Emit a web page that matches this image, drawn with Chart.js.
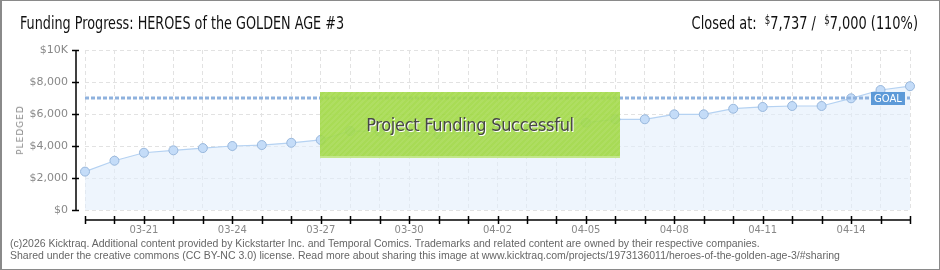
<!DOCTYPE html>
<html>
<head>
<meta charset="utf-8">
<script src="https://cdn.jsdelivr.net/npm/chart.js@4.4.1/dist/chart.umd.min.js"></script>
<style>
  body { margin: 0; background: #fff; }
  #wrap { position: relative; width: 940px; height: 270px; overflow: hidden; }
  #frame { position: absolute; left: 0; top: 0; width: 940px; height: 270px; box-sizing: border-box;
           border: 1px solid #8a8a8a; border-left-width: 2px; pointer-events: none; }
  .cond { font-family: "DejaVu Sans Condensed", "Roboto Condensed", Roboto, sans-serif; font-stretch: condensed; }
  #title { position: absolute; left: 20px; top: 12px; font-size: 18px; color: #111; white-space: nowrap;
           transform: scaleX(0.79); transform-origin: left center; }
  #closed { position: absolute; right: 22px; top: 12px; font-size: 18px; color: #111; white-space: nowrap;
            transform: scaleX(0.8); transform-origin: right center; }
  #closed .sup { font-size: 12px; vertical-align: 5px; }
  #pledged { position: absolute; left: 20px; top: 130px; font-size: 9px; color: #888; letter-spacing: 1px;
             transform: translate(-50%, -50%) rotate(-90deg); white-space: nowrap; font-family: "DejaVu Sans", sans-serif; }
  #success { position: absolute; left: 320px; top: 92px; width: 300px; height: 64px;
             background: rgba(160, 216, 68, 0.9);
             background-image: repeating-linear-gradient(135deg, rgba(255,255,255,0.07) 0 2px, rgba(0,0,0,0) 2px 4px);
             border-bottom: 2px solid rgba(196, 232, 140, 0.95);
             display: flex; align-items: center; justify-content: center;
             font-size: 18px; letter-spacing: -0.3px; color: #474747; text-shadow: 1px 1px 0 #fff; }
  #footer { position: absolute; left: 10px; top: 237px; font-family: "Liberation Sans", Arial, sans-serif;
            font-size: 10.5px; line-height: 12px; color: #666; white-space: nowrap; }
</style>
</head>
<body>
<div id="wrap">
  <canvas id="myChart" width="940" height="270"></canvas>
  <div id="title" class="cond">Funding Progress: HEROES of the GOLDEN AGE #3</div>
  <div id="closed" class="cond"></div>
  <div id="pledged">PLEDGED</div>
  <div id="success" class="cond">Project Funding Successful</div>
  <div id="footer">(c)2026 Kicktraq. Additional content provided by Kickstarter Inc. and Temporal Comics. Trademarks and related content are owned by their respective companies.<br>Shared under the creative commons (CC BY-NC 3.0) license. Read more about sharing this image at www.kicktraq.com/projects/1973136011/heroes-of-the-golden-age-3/#sharing</div>
  <div id="frame"></div>
</div>
<script>
// dates of the campaign, one point per day
let days = ['03-19','03-20','03-21','03-22','03-23','03-24','03-25','03-26','03-27','03-28',
            '03-29','03-30','03-31','04-01','04-02','04-03','04-04','04-05','04-06','04-07',
            '04-08','04-09','04-10','04-11','04-12','04-13','04-14','04-15','04-16'];
// pledged total in dollars
let pledged = [2400, 3080, 3580, 3730, 3870, 4000, 4060, 4200, 4380, 4940,
               4890, 4860, 4730, 4860, 5050, 5200, 5350, 5460, 5670, 5670,
               5980, 5980, 6330, 6440, 6500, 6500, 6980, 7500, 7737];
let goal = 7000;
let closedAt = 7737;
let shownDays = ['03-21','03-24','03-27','03-30','04-02','04-05','04-08','04-11','04-14'];
let yMax = 10000;

let money = (v) => v.toLocaleString('en-US');
document.getElementById('closed').innerHTML =
  'Closed at:&nbsp; <span class="sup">$</span>' + money(closedAt) +
  ' / &nbsp;<span class="sup">$</span>' + money(goal) +
  ' (' + Math.floor(closedAt / goal * 100) + '%)';

const yFont = { family: "'DejaVu Sans', sans-serif", size: 11 };
const xFont = { family: "'DejaVu Sans', sans-serif", size: 10 };

// draws the detached axis lines, tick marks and the GOAL tag
let kicktraqAxes = {
  id: 'kicktraqAxes',
  afterDraw(chart) {
    let { ctx, chartArea, scales } = chart;
    let x = scales.x, y = scales.y;
    let ax = chartArea.left - 9;
    ctx.save();
    ctx.strokeStyle = '#000';
    ctx.lineWidth = 1.5;
    ctx.beginPath();
    ctx.moveTo(ax, y.getPixelForValue(yMax));
    ctx.lineTo(ax, y.getPixelForValue(0) + 1);
    ctx.stroke();
    y.ticks.forEach((t) => {
      let py = Math.round(y.getPixelForValue(t.value)) + 0.5;
      ctx.beginPath();
      if (t.value % 2000 === 0) {
        ctx.strokeStyle = '#000';
        ctx.moveTo(ax - 4, py); ctx.lineTo(ax + 3, py);
      } else {
        ctx.strokeStyle = '#e00';
        ctx.moveTo(ax - 3, py); ctx.lineTo(ax, py);
      }
      ctx.stroke();
    });
    let ay = chartArea.bottom + 10;
    ctx.strokeStyle = '#000';
    ctx.lineWidth = 1.5;
    ctx.beginPath();
    ctx.moveTo(x.getPixelForValue(0), ay);
    ctx.lineTo(x.getPixelForValue(days.length - 1), ay);
    ctx.stroke();
    days.forEach((d, i) => {
      let px = Math.round(x.getPixelForValue(i)) + 0.5;
      ctx.beginPath();
      ctx.moveTo(px, ay - 4); ctx.lineTo(px, ay + 4);
      ctx.stroke();
    });
    // goal tag
    let gy = y.getPixelForValue(goal);
    let gx = x.getPixelForValue(days.length - 1) - 39;
    ctx.fillStyle = '#5d9ad8';
    ctx.fillRect(gx, gy - 6, 34, 13);
    ctx.fillStyle = '#fff';
    ctx.font = "10px 'DejaVu Sans', sans-serif";
    ctx.textAlign = 'center';
    ctx.textBaseline = 'middle';
    ctx.fillText('GOAL', gx + 17, gy + 1);
    ctx.restore();
  }
};

let ctx = document.getElementById('myChart').getContext('2d');
let chart = new Chart(ctx, {
  type: 'line',
  data: {
    labels: days,
    datasets: [{
      label: 'Pledged',
      data: pledged,
      fill: 'origin',
      backgroundColor: 'rgba(226, 238, 251, 0.6)',
      borderColor: '#b5d2f2',
      borderWidth: 1.2,
      tension: 0,
      pointRadius: 4.5,
      pointBackgroundColor: '#c4dcf8',
      pointBorderColor: '#98b7dc',
      pointBorderWidth: 1,
      order: 2
    }, {
      label: 'Goal',
      data: days.map(() => goal),
      fill: false,
      borderColor: '#8fb2de',
      borderWidth: 3,
      borderDash: [4, 2],
      pointRadius: 0,
      order: 1
    }]
  },
  options: {
    responsive: false,
    animation: false,
    devicePixelRatio: 1,
    layout: { padding: { top: 50, right: 30, left: 0, bottom: 0 } },
    plugins: { legend: { display: false }, tooltip: { enabled: false } },
    scales: {
      x: {
        afterFit: (s) => { s.height = 60; },
        grid: { color: '#e2e2e2', drawTicks: false, lineWidth: 1 },
        border: { display: false, dash: [4, 3] },
        ticks: {
          autoSkip: false, maxRotation: 0, padding: 14, color: '#888', font: xFont,
          callback: function (v, i) { return shownDays.includes(days[i]) ? days[i] : ''; }
        }
      },
      y: {
        min: 0, max: yMax,
        afterFit: (s) => { s.width = 85; },
        grid: {
          drawTicks: false,
          color: (c) => (c.tick && c.tick.value % 2000 === 0) ? '#e2e2e2' : 'rgba(0,0,0,0)'
        },
        border: { display: false, dash: [4, 3] },
        ticks: {
          stepSize: 1000, padding: 17, color: '#888', font: yFont,
          callback: (v) => v % 2000 !== 0 ? '' : (v === yMax ? '$10K' : '$' + money(v))
        }
      }
    }
  },
  plugins: [kicktraqAxes]
});
</script>
</body>
</html>
